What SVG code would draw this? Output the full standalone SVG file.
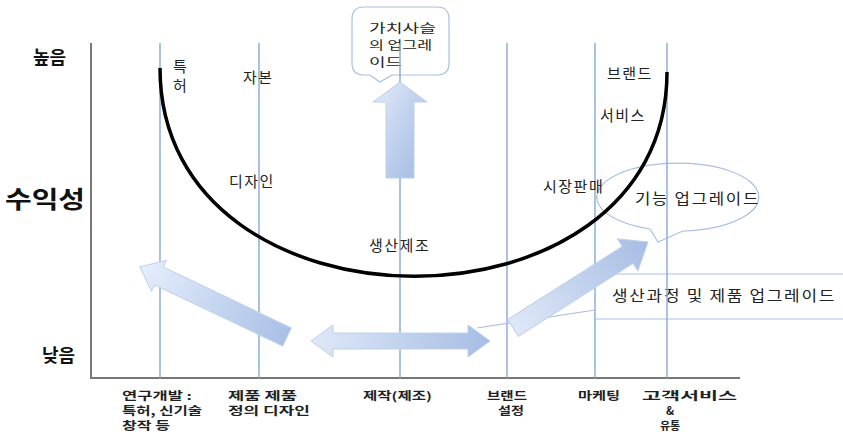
<svg xmlns="http://www.w3.org/2000/svg" width="843" height="435" viewBox="0 0 843 435">
<style>
.t{font-family:"Noto Sans CJK KR","Noto Sans",sans-serif;font-size:15px;fill:#222;letter-spacing:1.5px}
.c{font-family:"Noto Sans CJK KR","Noto Sans",sans-serif;font-size:12px;fill:#222}
.b{font-family:"Noto Sans CJK KR","Noto Sans",sans-serif;font-size:11px;font-weight:bold;fill:#222}
.ax{font-family:"Noto Sans CJK KR","Noto Sans",sans-serif;font-weight:bold;fill:#111}
.vl{stroke:#8eaed8;stroke-width:1.5;fill:none}
.co{stroke:#a9c0e2;stroke-width:1.2;fill:#fff}
.ar{stroke:#bcd0ec;stroke-width:1}
</style>
<defs>
<linearGradient id="g1" x1="0" y1="0" x2="1" y2="1">
<stop offset="0" stop-color="#e3ebf8"/><stop offset="1" stop-color="#9fb8e2"/>
</linearGradient>
<linearGradient id="g2" x1="0" y1="0" x2="1" y2="0">
<stop offset="0" stop-color="#a9c0e6"/><stop offset="1" stop-color="#e6eefb"/>
</linearGradient>
<linearGradient id="g3" x1="0" y1="0" x2="1" y2="0">
<stop offset="0" stop-color="#dfe8f7"/><stop offset="1" stop-color="#a6bde4"/>
</linearGradient>
</defs>
<g id="callout-value">
<path class="co" d="M364,7 H437 Q449,7 449,19 V63 Q449,75 437,75 H392 L380,82 L370,75 H364 Q352,75 352,63 V19 Q352,7 364,7 Z"/>
<text class="c" x="369" y="33" textLength="67" lengthAdjust="spacingAndGlyphs">가치사슬</text>
<text class="c" x="369" y="50" textLength="63" lengthAdjust="spacingAndGlyphs">의 업그레</text>
<text class="c" x="369" y="67" textLength="33" lengthAdjust="spacingAndGlyphs">이드</text>
</g>
<g id="callout-function">
<path class="co" d="M650,229 A81,34 0 1 1 683,231 L658,242 Z"/>
<text class="t" x="635" y="204" textLength="125" lengthAdjust="spacingAndGlyphs">기능 업그레이드</text>
</g>
<g id="callout-process">
<path d="M843,274 H595 M595,319 H843" stroke="#a9c0e2" stroke-width="1.2" fill="none"/>
<text class="t" x="612" y="301" textLength="224" lengthAdjust="spacingAndGlyphs">생산과정 및 제품 업그레이드</text>
</g>
<g id="connectors">
<path d="M91,43 V378 H740" stroke="#777" stroke-width="2" fill="none"/>
<path class="vl" d="M160,43 V378 M259,43 V378 M400,43 V378 M507,43 V378 M595,43 V378 M667,43 V378"/>
<path d="M477,328 L595,310" stroke="#a9c0e2" stroke-width="1.2" fill="none"/>
<path d="M160,68 C160,345 667,345 667,72" stroke="#000" stroke-width="3.5" fill="none"/>
</g>
<g id="arrow-up">
<polygon class="ar" fill="url(#g1)" points="400,82 427,102 414,102 414,178 386,178 386,102 373,102"/>
</g>
<g id="arrow-left">
<polygon class="ar" fill="url(#g2)" transform="translate(287,337) rotate(205.5)" points="0,-10 142,-10 142,-17 163,0 142,17 142,10 0,10"/>
</g>
<g id="arrow-right">
<polygon class="ar" fill="url(#g3)" transform="translate(513,328) rotate(-32.5)" points="0,-10 136,-10 136,-19 160,0 136,19 136,10 0,10"/>
</g>
<g id="arrow-double">
<polygon class="ar" fill="url(#g3)" points="311,341 333,325 333,333 468,333 468,325 490,341 468,357 468,349 333,349 333,357"/>
</g>
<g id="labels">
<text class="ax" x="33" y="64" font-size="18">높음</text>
<text class="ax" x="5" y="208" font-size="24" textLength="80" lengthAdjust="spacingAndGlyphs">수익성</text>
<text class="ax" x="42" y="362" font-size="18">낮음</text>
<text class="t" x="173" y="72">특</text>
<text class="t" x="173" y="91">허</text>
<text class="t" x="243" y="83">자본</text>
<text class="t" x="229" y="187">디자인</text>
<text class="t" x="369" y="251">생산제조</text>
<text class="t" x="543" y="192">시장판매</text>
<text class="t" x="600" y="121">서비스</text>
<text class="t" x="607" y="79">브랜드</text>
</g>
<g id="stages">
<text class="b" x="122" y="400" textLength="70" lengthAdjust="spacingAndGlyphs">연구개발 :</text>
<text class="b" x="122" y="415" textLength="80" lengthAdjust="spacingAndGlyphs">특허, 신기술</text>
<text class="b" x="122" y="430" textLength="48" lengthAdjust="spacingAndGlyphs">창작 등</text>
<text class="b" x="228" y="400" textLength="69" lengthAdjust="spacingAndGlyphs">제품  제품</text>
<text class="b" x="228" y="415" textLength="82" lengthAdjust="spacingAndGlyphs">정의  디자인</text>
<text class="b" x="363" y="400" textLength="69" lengthAdjust="spacingAndGlyphs">제작(제조)</text>
<text class="b" x="487" y="400" textLength="40" lengthAdjust="spacingAndGlyphs">브랜드</text>
<text class="b" x="498" y="415" textLength="26" lengthAdjust="spacingAndGlyphs">설정</text>
<text class="b" x="578" y="400" textLength="42" lengthAdjust="spacingAndGlyphs">마케팅</text>
<text class="b" x="642" y="400" textLength="95" lengthAdjust="spacingAndGlyphs">고객서비스</text>
<text class="b" x="670" y="415" text-anchor="middle">&amp;</text>
<text class="b" x="670" y="430" text-anchor="middle">유통</text>
</g>
</svg>
